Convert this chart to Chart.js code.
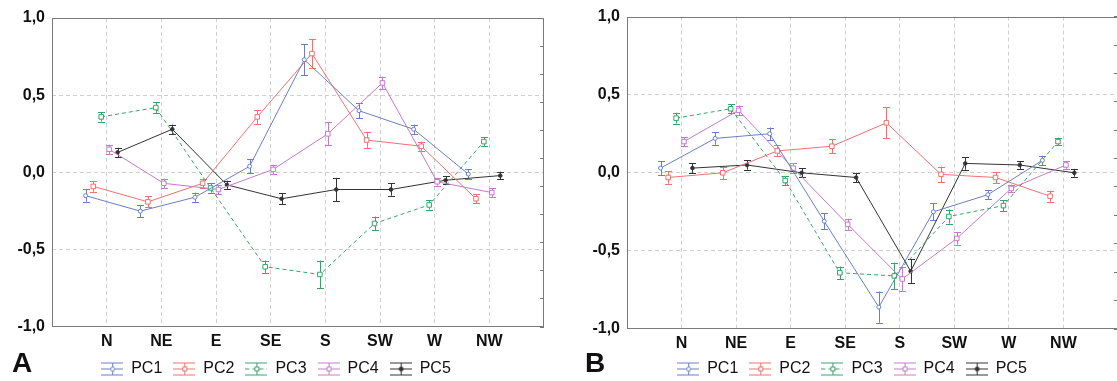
<!DOCTYPE html>
<html><head><meta charset="utf-8">
<script src="https://cdn.jsdelivr.net/npm/chart.js@4.4.1/dist/chart.umd.min.js"></script>
<style>
html,body{margin:0;padding:0;width:1117px;height:381px;overflow:hidden;background:#fff;}
.box{position:absolute;top:0;height:387px;}
.lbl{position:absolute;font:bold 28px "Liberation Sans",Arial,sans-serif;line-height:28px;color:#111;}
</style></head><body>
<div class="box" style="left:0;width:560px"><canvas id="cA"></canvas></div>
<div class="box" style="left:560px;width:565px"><canvas id="cB"></canvas></div>
<div class="lbl" style="left:12px;top:349px">A</div>
<div class="lbl" style="left:585px;top:349px">B</div>
<script>
// ---- data ----
const categories = ['N', 'NE', 'E', 'SE', 'S', 'SW', 'W', 'NW'];
const seriesNames = ['PC1', 'PC2', 'PC3', 'PC4', 'PC5'];
const yTickValues = [-1, -0.5, 0, 0.5, 1];
const yTickLabels = ['-1,0', '-0,5', '0,0', '0,5', '1,0'];

// Panel A means
const A_PC1 = [-0.15, -0.25, -0.16, 0.04, 0.73, 0.40, 0.28, -0.01];
const A_PC2 = [-0.09, -0.19, -0.07, 0.36, 0.77, 0.21, 0.17, -0.17];
const A_PC3 = [0.36, 0.42, -0.10, -0.61, -0.66, -0.33, -0.21, 0.20];
const A_PC4 = [0.15, -0.07, -0.11, 0.02, 0.25, 0.58, -0.06, -0.13];
const A_PC5 = [0.13, 0.28, -0.08, -0.17, -0.11, -0.11, -0.05, -0.02];
// Panel A error half-widths
const A_PC1_err = [0.04, 0.04, 0.03, 0.045, 0.10, 0.05, 0.03, 0.03];
const A_PC2_err = [0.035, 0.035, 0.03, 0.045, 0.095, 0.05, 0.03, 0.03];
const A_PC3_err = [0.03, 0.035, 0.03, 0.04, 0.09, 0.045, 0.03, 0.027];
const A_PC4_err = [0.03, 0.03, 0.03, 0.03, 0.075, 0.04, 0.025, 0.03];
const A_PC5_err = [0.03, 0.03, 0.027, 0.035, 0.075, 0.04, 0.025, 0.025];

// Panel B means
const B_PC1 = [0.03, 0.22, 0.25, -0.31, -0.86, -0.25, -0.14, 0.08];
const B_PC2 = [-0.03, 0.00, 0.14, 0.17, 0.32, -0.01, -0.03, -0.15];
const B_PC3 = [0.35, 0.41, -0.05, -0.64, -0.66, -0.28, -0.21, 0.20];
const B_PC4 = [0.20, 0.40, 0.03, -0.33, -0.68, -0.42, -0.10, 0.05];
const B_PC5 = [0.03, 0.05, 0.00, -0.03, -0.63, 0.06, 0.05, 0.00];
// Panel B error half-widths
const B_PC1_err = [0.045, 0.04, 0.04, 0.05, 0.10, 0.055, 0.03, 0.03];
const B_PC2_err = [0.04, 0.04, 0.035, 0.045, 0.10, 0.05, 0.035, 0.035];
const B_PC3_err = [0.035, 0.03, 0.03, 0.04, 0.085, 0.045, 0.035, 0.025];
const B_PC4_err = [0.03, 0.03, 0.03, 0.035, 0.075, 0.04, 0.025, 0.025];
const B_PC5_err = [0.03, 0.03, 0.03, 0.03, 0.075, 0.04, 0.025, 0.025];

// ---- styles ----
const colors = ['#6a7ec6', '#f27070', '#3aa36b', '#c47ac9', '#333333'];
const dashes = [[], [], [4, 3], [], []];
const markers = ['circle', 'rect', 'rect', 'rect', 'circle'];
const markerRadius = [2, 3.2, 3.2, 3.2, 1.8];
const filled = [false, false, false, false, true];
const dodge = [-0.385, -0.245, -0.1, 0.045, 0.2];

Chart.defaults.font.family = '"Liberation Sans", Arial, sans-serif';
Chart.defaults.color = '#111';

function makeIcon(s) {
  const c = document.createElement('canvas');
  c.width = 22; c.height = 15;
  const g = c.getContext('2d');
  g.strokeStyle = colors[s]; g.lineWidth = 1;
  g.beginPath();
  g.moveTo(0, 1.5); g.lineTo(22, 1.5);
  g.moveTo(0, 13.5); g.lineTo(22, 13.5);
  g.moveTo(11.5, 1.5); g.lineTo(11.5, 13.5);
  g.stroke();
  g.setLineDash(dashes[s]);
  g.beginPath(); g.moveTo(0, 7.5); g.lineTo(22, 7.5); g.stroke();
  g.setLineDash([]);
  g.fillStyle = filled[s] ? colors[s] : '#fff';
  g.beginPath();
  if (markers[s] === 'rect') g.rect(9.5, 5.5, 4, 4); else g.arc(11.5, 7.5, 2, 0, Math.PI * 2);
  g.fill(); g.stroke();
  return c;
}
const legendIcons = seriesNames.map((n, s) => makeIcon(s));

const errorBars = {
  id: 'errorBars',
  beforeDatasetsDraw(chart) {
    const ctx = chart.ctx, ys = chart.scales.y;
    chart.data.datasets.forEach((ds, di) => {
      const meta = chart.getDatasetMeta(di);
      ctx.save();
      ctx.strokeStyle = ds.borderColor; ctx.lineWidth = 1;
      meta.data.forEach((pt, i) => {
        const v = ds.data[i].y, e = ds.err[i];
        const x = Math.round(pt.x) + 0.5;
        const y1 = ys.getPixelForValue(v + e), y2 = ys.getPixelForValue(v - e);
        ctx.beginPath();
        ctx.moveTo(x, y1); ctx.lineTo(x, y2);
        ctx.moveTo(x - 3.5, Math.round(y1) + 0.5); ctx.lineTo(x + 3.5, Math.round(y1) + 0.5);
        ctx.moveTo(x - 3.5, Math.round(y2) + 0.5); ctx.lineTo(x + 3.5, Math.round(y2) + 0.5);
        ctx.stroke();
      });
      ctx.restore();
    });
  }
};
const frame = {
  id: 'frame',
  beforeDatasetsDraw(chart) {
    const {ctx, chartArea: a} = chart;
    ctx.save();
    ctx.strokeStyle = '#7a7a7a'; ctx.lineWidth = 1;
    ctx.strokeRect(Math.round(a.left) + 0.5, Math.round(a.top) + 0.5,
      Math.round(a.right - a.left) - 1, Math.round(a.bottom - a.top) - 1);
    ctx.restore();
  }
};

function makeChart(id, series, errs, cfg) {
  const datasets = series.map((vals, s) => ({
    label: seriesNames[s],
    data: vals.map((v, i) => ({x: i + 1 + dodge[s], y: v})),
    err: errs[s],
    borderColor: colors[s],
    backgroundColor: colors[s],
    borderWidth: 1,
    borderDash: dashes[s],
    tension: 0,
    fill: false,
    pointStyle: markers[s],
    pointRadius: markerRadius[s],
    pointHoverRadius: markerRadius[s],
    pointBorderWidth: 1,
    pointBorderColor: colors[s],
    pointBackgroundColor: filled[s] ? colors[s] : '#fff'
  }));
  return new Chart(document.getElementById(id), {
    type: 'line',
    data: {datasets},
    plugins: [frame, errorBars],
    options: {
      responsive: true, maintainAspectRatio: false, animation: false,
      devicePixelRatio: 1,
      layout: {padding: cfg.padding},
      plugins: {
        tooltip: {enabled: false},
        legend: {
          position: 'bottom',
          labels: {
            usePointStyle: true, pointStyleWidth: 22, padding: 11,
            font: {size: 16}, color: '#111',
            generateLabels: () => seriesNames.map((n, i) => ({
              text: n, pointStyle: legendIcons[i], rotation: 0,
              fillStyle: colors[i], strokeStyle: colors[i], lineWidth: 1,
              hidden: false, datasetIndex: i, fontColor: '#111'
            }))
          }
        }
      },
      scales: {
        x: {
          type: 'linear', min: 0, max: categories.length + 1,
          ticks: {stepSize: 1, autoSkip: false, maxRotation: 0, padding: 5,
            font: {size: 16, weight: 'bold'}, color: '#111',
            callback: v => (v >= 1 && v <= categories.length) ? categories[v - 1] : ''},
          grid: {drawTicks: false, lineWidth: 1,
            color: c => (c.tick && (c.tick.value === 0 || c.tick.value === categories.length + 1)) ? 'rgba(0,0,0,0)' : '#cfcfcf'},
          border: {display: false, dash: [4, 3]},
          afterFit: s => { s.height = cfg.h - s.chart.legend.height - cfg.bottom; }
        },
        y: {
          type: 'linear', min: -1, max: 1,
          ticks: {stepSize: 0.5, padding: 7, font: {size: 16, weight: 'bold'}, color: '#111',
            callback: v => { const k = yTickValues.findIndex(t => Math.abs(t - v) < 1e-9); return k >= 0 ? yTickLabels[k] : ''; }},
          grid: {drawTicks: false, lineWidth: 1,
            color: c => (c.tick && Math.abs(c.tick.value) > 0.99) ? 'rgba(0,0,0,0)' : '#cfcfcf'},
          border: {display: false, dash: [4, 3]},
          afterFit: s => { s.width = cfg.yw; }
        },
        y2: {
          type: 'linear', position: 'right', min: 0, max: 11,
          ticks: {display: false, stepSize: 1},
          grid: {drawOnChartArea: false, drawTicks: true, tickLength: -4, tickColor: '#7a7a7a', color: '#7a7a7a'},
          border: {display: false},
          afterFit: s => { s.width = cfg.y2w; }
        }
      }
    }
  });
}

makeChart('cA', [A_PC1, A_PC2, A_PC3, A_PC4, A_PC5],
  [A_PC1_err, A_PC2_err, A_PC3_err, A_PC4_err, A_PC5_err],
  {padding: {top: 18, left: 0, right: 8, bottom: 0}, yw: 52, y2w: 8, h: 387, bottom: 327});
makeChart('cB', [B_PC1, B_PC2, B_PC3, B_PC4, B_PC5],
  [B_PC1_err, B_PC2_err, B_PC3_err, B_PC4_err, B_PC5_err],
  {padding: {top: 16, left: 19, right: 0, bottom: 0}, yw: 48, y2w: 7, h: 387, bottom: 329});
</script>
</body></html>
